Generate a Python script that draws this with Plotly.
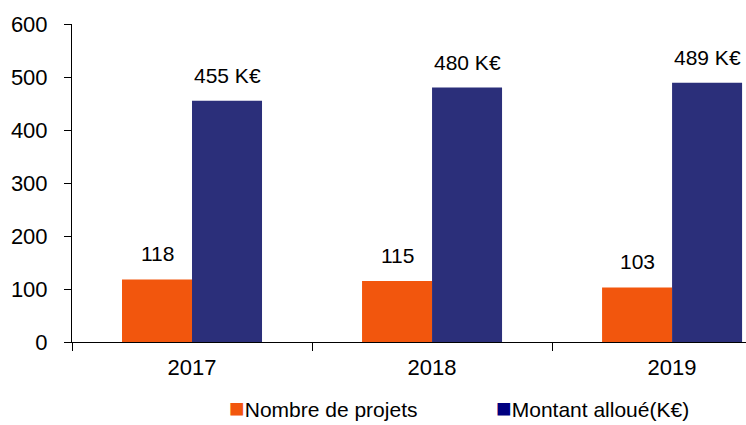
import plotly.graph_objects as go

years = ["2017", "2018", "2019"]
nb_projets = [118, 115, 103]
montant = [455, 480, 489]
montant_labels = ["455 K€", "480 K€", "489 K€"]
y_ticks = [0, 100, 200, 300, 400, 500, 600]
legend_names = ["Nombre de projets", "Montant alloué(K€)"]

ORANGE = "#F2560D"
NAVY = "#2B2F7A"
NAVY_LEG = "#000080"
FONT = "Liberation Sans, Arial, sans-serif"

fig = go.Figure()
fig.add_trace(go.Bar(x=years, y=nb_projets, name=legend_names[0],
                     marker=dict(color=ORANGE, line=dict(width=0))))
fig.add_trace(go.Bar(x=years, y=montant, name=legend_names[1],
                     marker=dict(color=NAVY, line=dict(width=0))))

half = (1 - 0.4167) / 4
for i, v in enumerate(nb_projets):
    fig.add_annotation(x=i - half, y=v, text=str(v), showarrow=False,
                       yanchor="bottom", yshift=12,
                       font=dict(family=FONT, size=21, color="#000"))
for i, v in enumerate(montant):
    fig.add_annotation(x=i + half, y=v, text=montant_labels[i], showarrow=False,
                       yanchor="bottom", yshift=12,
                       font=dict(family=FONT, size=21, color="#000"))

# legend drawn as text entries
for xpos, col, name in [(0.230, ORANGE, legend_names[0]), (0.626, NAVY_LEG, legend_names[1])]:
    fig.add_annotation(xref="paper", yref="paper", x=xpos, y=-0.208,
                       xanchor="left", yanchor="middle", showarrow=False,
                       text=f"<span style='color:{col};font-size:26px'>■</span>{name}",
                       font=dict(family=FONT, size=21, color="#000"))

fig.update_layout(
    width=746, height=425,
    margin=dict(l=72, r=0, t=24, b=83, autoexpand=False),
    paper_bgcolor="white", plot_bgcolor="white",
    barmode="group", bargap=0.4167, bargroupgap=0,
    font=dict(family=FONT, size=21, color="#000"),
    showlegend=False,
    xaxis=dict(type="category", range=[-0.5, 2.308], showline=True, linecolor="#000",
               linewidth=1, ticks="outside", tickson="boundaries", ticklen=8,
               tickcolor="#000", showgrid=False, zeroline=False, ticklabelstandoff=6,
               tickfont=dict(family=FONT, size=22, color="#000")),
    yaxis=dict(range=[0, 600], tickvals=y_ticks, showline=True, linecolor="#000",
               linewidth=1, ticks="outside", ticklen=7, tickcolor="#000",
               showgrid=False, zeroline=False, ticklabelstandoff=12,
               tickfont=dict(family=FONT, size=22, color="#000")),
)

fig.write_html("out.html")
